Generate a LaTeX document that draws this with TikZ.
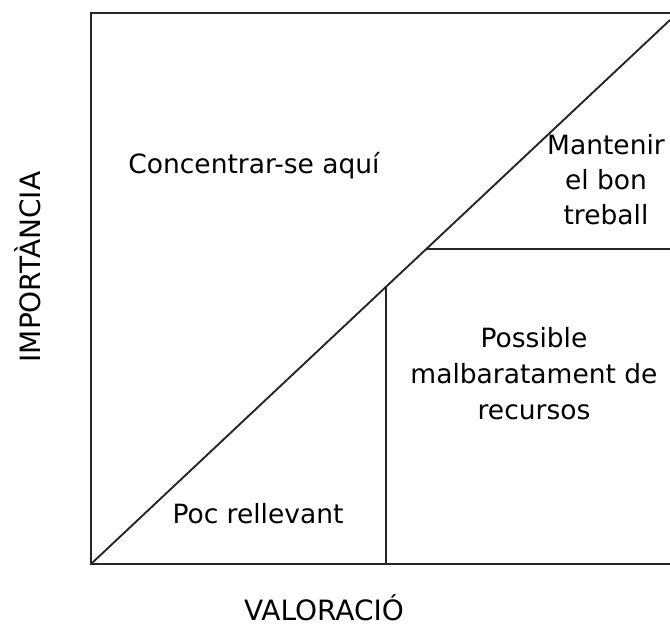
\documentclass[tikz,border=0pt]{standalone}
\usepackage{fontspec}
\setmainfont{DejaVu Sans}
\begin{document}
\begin{tikzpicture}[x=1pt,y=-1pt,
  frame/.style={line width=2.8pt,black!85},
  thin/.style={line width=1.9pt,black!85},
  lbl/.style={font=\fontsize{26.5}{35}\selectfont,align=center,inner sep=0pt},
  axl/.style={font=\fontsize{28}{34}\selectfont,inner sep=0pt,anchor=base}]
\useasboundingbox (0,0) rectangle (670,627);
\coordinate (tl) at (91,13);
\coordinate (tr) at (670,13);
\coordinate (bl) at (91,564);
\coordinate (br) at (670,564);
\coordinate (dtop) at (670,20);
\coordinate (vtop) at (386,287);
\coordinate (vbot) at (386,564);
\coordinate (hl) at (426,249);
\coordinate (hr) at (670,249);
\draw[thin] (bl) -- (dtop);
\draw[thin] (vtop) -- (vbot);
\draw[thin] (hl) -- (hr);
\draw[frame] (tr) -- (tl) -- (bl) -- (br);
\node[lbl,anchor=base] (a) at (254,173) {Concentrar-se aquí};
\node[lbl] (b) at (606,180) {Mantenir\\el bon\\treball};
\node[lbl,font=\fontsize{26.5}{36}\selectfont] (c) at (534,374) {Possible\\malbaratament de\\recursos};
\node[lbl,anchor=base] (d) at (258,523) {Poc rellevant};
\node[axl,rotate=90] (e) at (40,267) {IMPORTÀNCIA};
\node[axl] (f) at (324,620) {VALORACIÓ};
\end{tikzpicture}
\end{document}
